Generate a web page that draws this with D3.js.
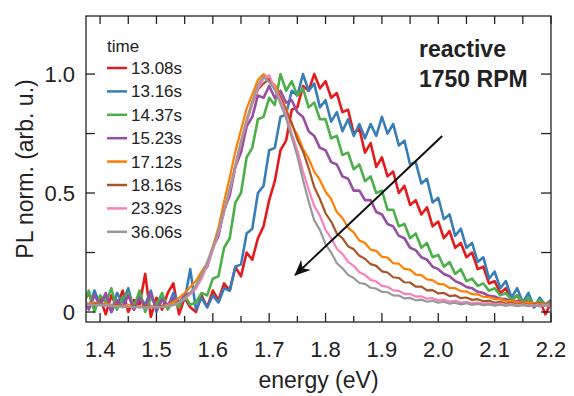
<!DOCTYPE html>
<html>
<head>
<meta charset="utf-8">
<script src="https://cdn.jsdelivr.net/npm/d3@7"></script>
<style>
	body { margin: 0; background: #fff; }
	svg { font-family: 'Liberation Sans', Arial, sans-serif; }
</style>
</head>
<body>
<div id="chart"></div>
<script>
// photon energy grid (eV)
const ENERGY = [
	1.37, 1.38, 1.39, 1.40, 1.41, 1.42, 1.43, 1.44, 1.45, 1.46,
	1.47, 1.48, 1.49, 1.50, 1.51, 1.52, 1.53, 1.54, 1.55, 1.56,
	1.57, 1.58, 1.59, 1.60, 1.61, 1.62, 1.63, 1.64, 1.65, 1.66,
	1.67, 1.68, 1.69, 1.70, 1.71, 1.72, 1.73, 1.74, 1.75, 1.76,
	1.77, 1.78, 1.79, 1.80, 1.81, 1.82, 1.83, 1.84, 1.85, 1.86,
	1.87, 1.88, 1.89, 1.90, 1.91, 1.92, 1.93, 1.94, 1.95, 1.96,
	1.97, 1.98, 1.99, 2.00, 2.01, 2.02, 2.03, 2.04, 2.05, 2.06,
	2.07, 2.08, 2.09, 2.10, 2.11, 2.12, 2.13, 2.14, 2.15, 2.16,
	2.17, 2.18, 2.19, 2.20,
]

const TIMES = ['13.08s', '13.16s', '14.37s', '15.23s', '17.12s', '18.16s', '23.92s', '36.06s']
const COLORS = ['#e41a1c', '#377eb8', '#4daf4a', '#984ea3', '#ff7f00', '#a65628', '#f781bf', '#999999']

// normalised PL, one value per ENERGY point
const PL_1308 = [
	0.04, 0.08, 0.01, 0.06, -0.01, 0.07, 0.02, 0.09, 0.00, 0.05,
	0.03, 0.16, -0.02, 0.06, 0.01, 0.08, 0.12, -0.01, 0.06, 0.02,
	0.00, 0.07, 0.02, 0.09, 0.05, 0.12, 0.09, 0.19, 0.15, 0.25,
	0.22, 0.31, 0.36, 0.47, 0.55, 0.68, 0.72, 0.85, 0.86, 0.95,
	0.93, 1.00, 0.94, 0.97, 0.90, 0.92, 0.84, 0.85, 0.75, 0.77,
	0.67, 0.71, 0.61, 0.65, 0.57, 0.59, 0.50, 0.53, 0.45, 0.47,
	0.41, 0.44, 0.36, 0.38, 0.31, 0.34, 0.27, 0.29, 0.23, 0.25,
	0.18, 0.19, 0.12, 0.13, 0.08, 0.10, 0.05, 0.07, 0.03, 0.06,
	0.02, 0.05, -0.01, 0.04,
]
const PL_1316 = [
	0.06, 0.02, 0.09, 0.03, 0.07, 0.00, 0.08, 0.04, 0.10, 0.01,
	0.07, 0.03, 0.09, 0.00, 0.06, 0.02, 0.08, 0.04, 0.05, 0.18,
	0.01, 0.06, 0.02, 0.07, 0.04, 0.10, 0.09, 0.19, 0.20, 0.33,
	0.35, 0.50, 0.53, 0.68, 0.69, 0.82, 0.83, 0.93, 0.91, 1.00,
	0.93, 0.96, 0.86, 0.89, 0.80, 0.84, 0.76, 0.81, 0.74, 0.79,
	0.73, 0.79, 0.74, 0.82, 0.75, 0.79, 0.70, 0.72, 0.62, 0.63,
	0.54, 0.56, 0.46, 0.48, 0.39, 0.41, 0.32, 0.35, 0.27, 0.29,
	0.21, 0.23, 0.14, 0.17, 0.10, 0.13, 0.06, 0.10, 0.04, 0.08,
	0.02, 0.06, 0.03, 0.05,
]
const PL_1437 = [
	0.03, 0.09, 0.00, 0.07, 0.04, 0.10, 0.01, 0.06, 0.08, 0.02,
	0.09, 0.00, 0.06, 0.03, 0.08, 0.01, 0.05, 0.02, 0.07, 0.03,
	0.04, 0.08, 0.07, 0.14, 0.15, 0.27, 0.31, 0.46, 0.50, 0.65,
	0.69, 0.81, 0.82, 0.90, 0.87, 1.00, 0.93, 0.97, 0.91, 0.94,
	0.86, 0.88, 0.81, 0.81, 0.73, 0.74, 0.66, 0.67, 0.60, 0.62,
	0.55, 0.57, 0.50, 0.51, 0.43, 0.43, 0.36, 0.37, 0.31, 0.33,
	0.27, 0.29, 0.23, 0.24, 0.19, 0.21, 0.16, 0.18, 0.13, 0.14,
	0.11, 0.12, 0.09, 0.10, 0.07, 0.08, 0.05, 0.07, 0.04, 0.06,
	0.03, 0.05, 0.03, 0.04,
]
const PL_1523 = [
	0.05, 0.01, 0.07, 0.03, 0.08, 0.00, 0.05, 0.02, 0.07, 0.01,
	0.06, 0.02, 0.08, 0.01, 0.05, 0.03, 0.06, 0.04, 0.07, 0.08,
	0.10, 0.16, 0.19, 0.27, 0.32, 0.43, 0.49, 0.61, 0.67, 0.78,
	0.82, 0.91, 0.90, 0.95, 0.90, 0.93, 0.88, 0.89, 0.84, 0.82,
	0.76, 0.74, 0.69, 0.68, 0.63, 0.62, 0.57, 0.56, 0.51, 0.51,
	0.47, 0.47, 0.42, 0.41, 0.37, 0.36, 0.32, 0.31, 0.27, 0.26,
	0.23, 0.22, 0.19, 0.18, 0.16, 0.15, 0.13, 0.12, 0.105, 0.10,
	0.085, 0.08, 0.068, 0.065, 0.055, 0.054, 0.046, 0.046, 0.04, 0.04,
	0.036, 0.036, 0.033, 0.034,
]
const PL_1712 = [
	0.04, 0.035, 0.04, 0.03, 0.035, 0.03, 0.03, 0.025, 0.03, 0.02,
	0.025, 0.02, 0.025, 0.02, 0.025, 0.03, 0.04, 0.06, 0.08, 0.105,
	0.13, 0.17, 0.205, 0.275, 0.355, 0.465, 0.565, 0.675, 0.765, 0.855,
	0.915, 0.975, 1.00, 0.975, 0.955, 0.905, 0.855, 0.785, 0.745, 0.685,
	0.645, 0.59, 0.555, 0.505, 0.475, 0.42, 0.395, 0.355, 0.335, 0.30,
	0.29, 0.262, 0.257, 0.232, 0.229, 0.205, 0.203, 0.181, 0.178, 0.157,
	0.155, 0.137, 0.134, 0.118, 0.116, 0.101, 0.10, 0.088, 0.086, 0.075,
	0.074, 0.064, 0.063, 0.054, 0.054, 0.046, 0.047, 0.041, 0.041, 0.037,
	0.037, 0.033, 0.034, 0.031,
]
const PL_1816 = [
	0.035, 0.03, 0.035, 0.03, 0.03, 0.025, 0.03, 0.025, 0.02, 0.025,
	0.02, 0.025, 0.02, 0.02, 0.025, 0.025, 0.03, 0.04, 0.06, 0.08,
	0.11, 0.15, 0.20, 0.265, 0.335, 0.42, 0.51, 0.61, 0.71, 0.80,
	0.875, 0.935, 0.96, 0.98, 0.935, 0.905, 0.845, 0.795, 0.725, 0.675,
	0.605, 0.525, 0.475, 0.415, 0.38, 0.33, 0.31, 0.276, 0.264, 0.236,
	0.224, 0.201, 0.194, 0.171, 0.166, 0.146, 0.143, 0.125, 0.124, 0.107,
	0.107, 0.091, 0.092, 0.078, 0.08, 0.067, 0.07, 0.058, 0.061, 0.051,
	0.054, 0.045, 0.048, 0.039, 0.043, 0.035, 0.039, 0.031, 0.036, 0.029,
	0.033, 0.028, 0.031, 0.028,
]
const PL_2392 = [
	0.035, 0.03, 0.03, 0.028, 0.03, 0.025, 0.025, 0.022, 0.024, 0.02,
	0.022, 0.018, 0.02, 0.02, 0.022, 0.025, 0.03, 0.04, 0.055, 0.075,
	0.10, 0.14, 0.195, 0.26, 0.33, 0.42, 0.51, 0.61, 0.71, 0.80,
	0.88, 0.94, 0.98, 0.995, 0.94, 0.89, 0.83, 0.75, 0.68, 0.59,
	0.515, 0.445, 0.405, 0.345, 0.31, 0.266, 0.244, 0.211, 0.194, 0.167,
	0.156, 0.135, 0.128, 0.11, 0.106, 0.091, 0.089, 0.076, 0.076, 0.065,
	0.066, 0.056, 0.058, 0.049, 0.052, 0.044, 0.047, 0.04, 0.043, 0.037,
	0.04, 0.034, 0.037, 0.032, 0.035, 0.03, 0.033, 0.028, 0.032, 0.027,
	0.03, 0.027, 0.029, 0.026,
]
const PL_3606 = [
	0.035, 0.032, 0.03, 0.03, 0.027, 0.027, 0.024, 0.024, 0.021, 0.021,
	0.019, 0.02, 0.018, 0.02, 0.02, 0.024, 0.03, 0.04, 0.06, 0.08,
	0.11, 0.155, 0.21, 0.27, 0.34, 0.43, 0.52, 0.62, 0.72, 0.81,
	0.885, 0.955, 0.99, 0.965, 0.935, 0.875, 0.815, 0.735, 0.655, 0.555,
	0.465, 0.385, 0.345, 0.285, 0.25, 0.205, 0.184, 0.156, 0.143, 0.122,
	0.118, 0.102, 0.098, 0.085, 0.083, 0.07, 0.069, 0.057, 0.059, 0.049,
	0.052, 0.043, 0.047, 0.039, 0.043, 0.035, 0.039, 0.032, 0.037, 0.03,
	0.034, 0.029, 0.032, 0.027, 0.031, 0.026, 0.03, 0.025, 0.029, 0.025,
	0.028, 0.024, 0.027, 0.024,
]
const SERIES = [PL_1308, PL_1316, PL_1437, PL_1523, PL_1712, PL_1816, PL_2392, PL_3606]

const X_TICKS_MAJOR = [1.4, 1.5, 1.6, 1.7, 1.8, 1.9, 2.0, 2.1, 2.2]
const X_TICKS_MINOR = [1.45, 1.55, 1.65, 1.75, 1.85, 1.95, 2.05, 2.15]
const Y_TICKS = [0, 0.25, 0.5, 0.75, 1.0]
const Y_TICK_LABELS = [[0, '0'], [0.5, '0.5'], [1.0, '1.0']]

// arrow annotation, data coordinates [energy, PL]
const ARROW_FROM = [2.007, 0.74]
const ARROW_TO = [1.746, 0.155]

const WIDTH = 574
const HEIGHT = 396
const LEFT = 86
const RIGHT = 551
const TOP = 16
const BOTTOM = 322
const INK = '#222'

const svg = d3.select('#chart').append('svg').attr('width', WIDTH).attr('height', HEIGHT)

const x = d3.scaleLinear().domain([1.375, 2.2]).range([LEFT, RIGHT])
const y = d3.scaleLinear().domain([-0.042, 1.244]).range([BOTTOM, TOP])

svg.append('clipPath').attr('id', 'plot-clip')
	.append('rect')
	.attr('x', LEFT).attr('y', TOP)
	.attr('width', RIGHT - LEFT).attr('height', BOTTOM - TOP)

// spectra (noisier early ones drawn a bit heavier)
const line = d3.line().x((d, i) => x(ENERGY[i])).y(d => y(d))
svg.append('g')
	.attr('clip-path', 'url(#plot-clip)')
	.selectAll('path')
	.data(SERIES)
	.join('path')
	.attr('fill', 'none')
	.attr('stroke', (d, i) => COLORS[i])
	.attr('stroke-width', (d, i) => (i < 4 ? 2.6 : 2.2))
	.attr('stroke-linejoin', 'round')
	.attr('d', line)

// frame
svg.append('rect')
	.attr('x', LEFT).attr('y', TOP)
	.attr('width', RIGHT - LEFT).attr('height', BOTTOM - TOP)
	.attr('fill', 'none').attr('stroke', INK).attr('stroke-width', 1.3)

// ticks, all pointing inward
const ticks = svg.append('g').attr('stroke', INK).attr('stroke-width', 1.3)
ticks.selectAll('line.xmaj').data(X_TICKS_MAJOR).join('line')
	.attr('x1', d => x(d)).attr('x2', d => x(d))
	.attr('y1', BOTTOM).attr('y2', BOTTOM - 9)
ticks.selectAll('line.xmin').data(X_TICKS_MINOR).join('line')
	.attr('x1', d => x(d)).attr('x2', d => x(d))
	.attr('y1', BOTTOM).attr('y2', BOTTOM - 6)
ticks.selectAll('line.xtop').data(X_TICKS_MAJOR.concat(X_TICKS_MINOR)).join('line')
	.attr('x1', d => x(d)).attr('x2', d => x(d))
	.attr('y1', TOP).attr('y2', TOP + 8)
ticks.selectAll('line.yl').data(Y_TICKS).join('line')
	.attr('x1', LEFT).attr('x2', LEFT + 9)
	.attr('y1', d => y(d)).attr('y2', d => y(d))
ticks.selectAll('line.yr').data(Y_TICKS).join('line')
	.attr('x1', RIGHT).attr('x2', RIGHT - 10)
	.attr('y1', d => y(d)).attr('y2', d => y(d))

// tick labels
svg.append('g').selectAll('text').data(X_TICKS_MAJOR).join('text')
	.attr('x', d => x(d)).attr('y', 357)
	.attr('text-anchor', 'middle')
	.attr('font-size', 22).attr('fill', INK)
	.text(d => d.toFixed(1))
svg.append('g').selectAll('text').data(Y_TICK_LABELS).join('text')
	.attr('x', 75).attr('y', d => y(d[0]) + 8)
	.attr('text-anchor', 'end')
	.attr('font-size', 22).attr('fill', INK)
	.text(d => d[1])

// axis titles
svg.append('text')
	.attr('x', (LEFT + RIGHT) / 2).attr('y', 388)
	.attr('text-anchor', 'middle')
	.attr('font-size', 23).attr('fill', INK)
	.text('energy (eV)')
svg.append('text')
	.attr('transform', 'translate(33,169) rotate(-90)')
	.attr('text-anchor', 'middle')
	.attr('font-size', 23).attr('fill', INK)
	.text('PL norm. (arb. u.)')

// legend
const legend = svg.append('g').attr('font-size', 17).attr('fill', INK)
legend.append('text').attr('x', 107).attr('y', 52).text('time')
const rows = legend.selectAll('g.row').data(TIMES).join('g')
	.attr('transform', (d, i) => `translate(107,${68 + i * 23.4})`)
rows.append('line')
	.attr('x1', 0).attr('x2', 20)
	.attr('stroke', (d, i) => COLORS[i]).attr('stroke-width', 2.5)
rows.append('text').attr('x', 24).attr('y', 6).text(d => d)

// annotation
const note = svg.append('g').attr('font-size', 23).attr('font-weight', 'bold').attr('fill', INK)
note.append('text').attr('x', 419).attr('y', 57).text('reactive')
note.append('text').attr('x', 419).attr('y', 87).text('1750 RPM')

svg.append('defs').append('marker')
	.attr('id', 'head')
	.attr('viewBox', '0 0 16 14')
	.attr('refX', 15).attr('refY', 7)
	.attr('markerWidth', 16).attr('markerHeight', 14)
	.attr('markerUnits', 'userSpaceOnUse')
	.attr('orient', 'auto')
	.append('path')
	.attr('d', 'M0,0 L16,7 L0,14 L5,7 Z')
	.attr('fill', '#111')

svg.append('line')
	.attr('x1', x(ARROW_FROM[0])).attr('y1', y(ARROW_FROM[1]))
	.attr('x2', x(ARROW_TO[0])).attr('y2', y(ARROW_TO[1]))
	.attr('stroke', '#111').attr('stroke-width', 2)
	.attr('marker-end', 'url(#head)')
</script>
</body>
</html>
